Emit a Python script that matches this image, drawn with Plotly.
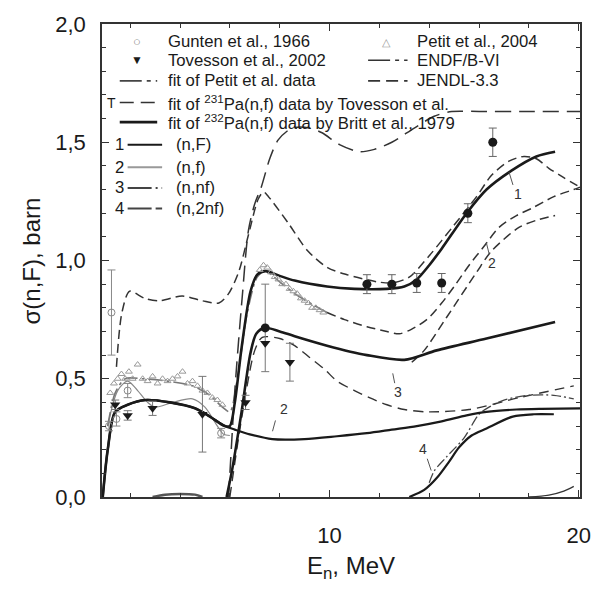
import plotly.graph_objects as go

# ---- evaluated curves (neutron energy in MeV, cross section in barn) ----
nF_E = [0.9, 1.1, 1.4, 1.9, 2.6, 3.6, 4.6, 5.2, 5.8, 6.0, 6.2, 6.47, 6.83, 7.1, 7.42, 8.0, 8.6,
        9.9, 11.0, 12.3, 13.0, 13.5, 14.0, 14.5, 15.5, 16.3, 17.3, 18.3, 19.05]
nF_S = [0.0, 0.2, 0.36, 0.39, 0.41, 0.40, 0.375, 0.34, 0.30, 0.30, 0.40, 0.63, 0.87, 0.94, 0.955, 0.935, 0.915,
        0.89, 0.88, 0.88, 0.89, 0.92, 0.98, 1.05, 1.20, 1.30, 1.38, 1.44, 1.46]

nf_E = [0.9, 1.1, 1.4, 1.9, 2.6, 3.6, 4.6, 5.2, 5.8, 6.2, 6.8, 7.7, 9.0, 10.3, 11.5, 12.5, 13.5,
        14.5, 15.5, 16.3, 17.5, 18.5, 20.05]
nf_S = [0.0, 0.2, 0.36, 0.39, 0.41, 0.40, 0.375, 0.34, 0.30, 0.285, 0.265, 0.245, 0.245, 0.257, 0.27, 0.285, 0.30,
        0.32, 0.345, 0.36, 0.37, 0.373, 0.375]

nnf_E = [5.87, 6.1, 6.47, 6.83, 7.06, 7.4, 8.0, 8.6, 9.9, 11.5, 13.0, 14.3, 16.3, 19.05]
nnf_S = [0.0, 0.12, 0.36, 0.61, 0.69, 0.715, 0.70, 0.68, 0.64, 0.60, 0.58, 0.62, 0.67, 0.74]

n2nf_E = [13.2, 13.8, 14.3, 14.8, 15.2, 15.7, 16.3, 17.35, 18.2, 19.0]
n2nf_S = [0.0, 0.03, 0.08, 0.15, 0.21, 0.26, 0.29, 0.34, 0.35, 0.35]

endf_E = [1.45, 1.67, 1.98, 2.58, 3.17, 4.09, 4.88, 5.56, 5.95, 6.35, 6.75, 7.14, 7.35, 7.55, 8.33,
          9.13, 9.92, 10.7, 11.9, 12.5, 13.2, 14.0, 15.0, 15.9, 16.5, 17.2, 17.8, 18.3, 18.8, 19.4, 20.05]
endf_S = [0.55, 0.78, 0.87, 0.84, 0.83, 0.85, 0.83, 0.82, 0.86, 0.95, 1.11, 1.26, 1.29, 1.27, 1.16,
          1.04, 0.97, 0.94, 0.91, 0.905, 0.93, 1.02, 1.15, 1.27, 1.36, 1.42, 1.44, 1.43, 1.39, 1.35, 1.31]

tov_fit_E = [5.95, 6.2, 6.5, 6.75, 7.0, 7.26, 7.6, 7.94, 8.5, 9.2, 9.7, 10.4, 11.2, 11.8, 12.5, 13.4,
             14.2, 14.9, 16.0, 18.0, 20.05]
tov_fit_S = [0.0, 0.45, 0.85, 1.13, 1.24, 1.31, 1.43, 1.51, 1.56, 1.56, 1.54, 1.49, 1.46, 1.47, 1.50, 1.56,
             1.61, 1.63, 1.63, 1.63, 1.63]

jendl_E = [9.9, 10.6, 11.5, 12.3, 12.8, 13.3, 13.9, 14.5, 15.0, 15.6, 16.2, 16.8, 17.5, 18.1, 19.0, 19.8, 20.05]
jendl_S = [0.78, 0.75, 0.72, 0.70, 0.69, 0.71, 0.75, 0.82, 0.89, 0.98, 1.06, 1.14, 1.19, 1.22, 1.27, 1.30, 1.31]

jendl2_E = [13.3, 13.8, 14.7, 15.9, 16.5, 17.6, 18.3, 19.05]
jendl2_S = [0.57, 0.62, 0.76, 0.95, 1.04, 1.14, 1.17, 1.19]

nnf3_E = [6.0, 6.5, 7.0, 7.3, 8.0, 8.6, 9.2, 9.8, 10.3, 11.0, 11.6, 12.3, 13.0, 13.9, 15.6, 17.6, 19.8]
nnf3_S = [0.0, 0.35, 0.62, 0.675, 0.67, 0.64, 0.59, 0.54, 0.49, 0.45, 0.42, 0.39, 0.37, 0.36, 0.37, 0.42, 0.47]

n2nf4_E = [14.0, 14.2, 14.7, 15.4, 16.0, 16.4, 17.0, 18.0, 19.0, 19.8]
n2nf4_S = [0.06, 0.11, 0.17, 0.25, 0.35, 0.38, 0.41, 0.43, 0.43, 0.415]

low_E = [1.1, 1.5, 1.9, 2.3, 2.7, 3.0, 3.7, 4.5, 5.0, 5.5, 5.75, 6.0]
low_S = [0.30, 0.45, 0.49, 0.45, 0.40, 0.38, 0.40, 0.415, 0.38, 0.30, 0.265, 0.26]

petit_fit_E = [1.1, 1.4, 1.8, 2.5, 3.5, 4.5, 5.2, 5.7, 6.0, 6.3, 6.7, 7.1, 7.42, 8.0, 8.6, 9.3, 9.9]
petit_fit_S = [0.30, 0.44, 0.50, 0.50, 0.49, 0.47, 0.43, 0.38, 0.36, 0.50, 0.78, 0.93, 0.955, 0.91, 0.86, 0.815, 0.78]

bump_lo_E = [2.9, 3.4, 4.0, 4.6, 4.9]
bump_lo_S = [0.0, 0.01, 0.013, 0.01, 0.0]
bump_hi_E = [18.0, 18.8, 19.4, 19.8]
bump_hi_S = [0.0, 0.008, 0.025, 0.045]

# ---- measured data ----
gun_E = [1.15, 1.25, 1.45, 1.9, 5.65]
gun_S = [0.30, 0.78, 0.33, 0.45, 0.27]
gun_err = [0.02, 0.18, 0.03, 0.03, 0.02]

tov_E = [1.4, 1.9, 2.9, 4.9, 6.63, 7.42, 8.41]
tov_S = [0.39, 0.345, 0.375, 0.35, 0.40, 0.65, 0.57]
tov_err_up = [0.02, 0.02, 0.03, 0.16, 0.03, 0.25, 0.08]
tov_err_dn = [0.02, 0.02, 0.03, 0.16, 0.03, 0.12, 0.08]

pet_E = [1.2, 1.35, 1.5, 1.65, 1.8, 1.95, 2.1, 2.3, 2.5, 2.7, 2.9, 3.1, 3.3, 3.5, 3.7, 3.9, 4.1, 4.3,
         4.5, 4.7, 4.9, 5.1, 5.3, 5.5, 5.7, 7.2, 7.35, 7.5, 7.65, 7.8, 7.95, 8.1, 8.25, 8.4, 8.55, 8.7,
         8.85, 9.0, 9.15, 9.3, 9.45, 9.6, 9.75]
pet_S = [0.44, 0.48, 0.50, 0.52, 0.50, 0.53, 0.50, 0.56, 0.50, 0.49, 0.51, 0.48, 0.50, 0.49, 0.50, 0.51,
         0.53, 0.48, 0.49, 0.47, 0.45, 0.44, 0.42, 0.41, 0.39, 0.96, 0.98, 0.97, 0.95, 0.93, 0.92, 0.90,
         0.90, 0.88, 0.87, 0.86, 0.84, 0.83, 0.82, 0.80, 0.80, 0.79, 0.78]

hc_E = [7.42, 11.5, 12.5, 13.5, 14.5, 15.55, 16.55]
hc_S = [0.715, 0.90, 0.90, 0.905, 0.905, 1.20, 1.50]
hc_err = [0.0, 0.04, 0.04, 0.04, 0.04, 0.04, 0.06]

y_ticks = [0.0, 0.5, 1.0, 1.5, 2.0]
y_tick_text = ["0,0", "0,5", "1,0", "1,5", "2,0"]
x_ticks = [10, 20]
x_tick_text = ["10", "20"]

FONT = "Liberation Sans, Arial, sans-serif"
INK = "#1a1a1a"

fig = go.Figure()


def curve(x, y, color=INK, width=1.6, dash="solid", smooth=0.8):
    fig.add_trace(go.Scatter(x=x, y=y, mode="lines", showlegend=False, hoverinfo="skip",
                             line=dict(color=color, width=width, dash=dash,
                                       shape="spline", smoothing=smooth)))


curve(bump_lo_E, bump_lo_S, color="#555", width=2.5)
curve(bump_hi_E, bump_hi_S, color="#333", width=1.3)
curve(low_E, low_S, color="#888", width=1.2)
curve(petit_fit_E, petit_fit_S, color="#777", width=1.6, dash="14px,4px,3px,4px")
curve(endf_E, endf_S, color="#333", width=1.5, dash="9px,5px")
curve(tov_fit_E, tov_fit_S, color="#333", width=1.5, dash="16px,8px")
curve(jendl_E, jendl_S, color="#333", width=1.5, dash="9px,5px")
curve(jendl2_E, jendl2_S, color="#333", width=1.5, dash="9px,5px")
curve(nnf3_E, nnf3_S, color="#333", width=1.4, dash="10px,6px")
curve(n2nf4_E, n2nf4_S, color="#444", width=1.3, dash="10px,3px,2px,3px")
curve(nf_E, nf_S, color=INK, width=2.2)
curve(nnf_E, nnf_S, color=INK, width=2.6)
curve(n2nf_E, n2nf_S, color=INK, width=2.2)
curve(nF_E, nF_S, color=INK, width=2.6)

# Petit et al., 2004
fig.add_trace(go.Scatter(x=pet_E, y=pet_S, mode="markers", showlegend=False, hoverinfo="skip",
                         marker=dict(symbol="triangle-up-open", size=6, color="#999",
                                     line=dict(width=1, color="#999"))))
# Gunten et al., 1966
fig.add_trace(go.Scatter(x=gun_E, y=gun_S, mode="markers", showlegend=False, hoverinfo="skip",
                         error_y=dict(type="data", array=gun_err, color="#888", thickness=1, width=4),
                         marker=dict(symbol="circle-open", size=7, color="#888",
                                     line=dict(width=1, color="#888"))))
# Tovesson et al., 2002
fig.add_trace(go.Scatter(x=tov_E, y=tov_S, mode="markers", showlegend=False, hoverinfo="skip",
                         error_y=dict(type="data", array=tov_err_up, arrayminus=tov_err_dn,
                                      color="#777", thickness=1, width=4),
                         marker=dict(symbol="triangle-down", size=9, color=INK)))
# high-energy data points
fig.add_trace(go.Scatter(x=hc_E, y=hc_S, mode="markers", showlegend=False, hoverinfo="skip",
                         error_y=dict(type="data", array=hc_err, color="#666", thickness=1, width=4),
                         marker=dict(symbol="circle", size=9, color=INK)))

# ---- plot frame geometry (pixels) ----
L, R, T, B = 102, 587, 15, 497


def px(x):
    return (x - L) / (R - L)


def py(y):
    return (B - y) / (B - T)


shapes = []
ann = []


def sample(x0, x1, y, dash="solid", width=1.6, color=INK):
    shapes.append(dict(type="line", xref="paper", yref="paper", x0=px(x0), x1=px(x1),
                       y0=py(y), y1=py(y), line=dict(color=color, width=width, dash=dash)))


def text(x, y, s, size=16.7, color=INK, anchor="left"):
    ann.append(dict(xref="paper", yref="paper", x=px(x), y=py(y), text=s, showarrow=False,
                    xanchor=anchor, yanchor="middle", font=dict(family=FONT, size=size, color=color)))


# legend, left column
text(138, 33, "○", size=13, color="#888", anchor="center")
text(167, 33, "Gunten et al., 1966")
text(138, 52, "▼", size=12, anchor="center")
text(167, 52, "Tovesson et al., 2002")
sample(120, 158, 73, dash="22px,5px,4px,5px", color="#444")
text(167, 73, "fit of Petit et al. data")
text(112, 95, "T", size=14, anchor="center")
sample(120, 158, 95, dash="14px,7px", color="#333")
text(167, 95, "fit of <sup>231</sup>Pa(n,f) data by Tovesson et al.")
sample(120, 158, 115, width=2.6)
text(167, 115, "fit of <sup>232</sup>Pa(n,f) data by Britt et al., 1979")
for k, (lab, dsh, col) in enumerate([("(n,F)", "solid", INK), ("(n,f)", "solid", "#999"),
                                     ("(n,nf)", "24px,4px,2px,4px", "#444"),
                                     ("(n,2nf)", "24px,4px,8px,4px", "#444")]):
    yy = [138, 161, 182, 203][k]
    text(120, yy, str(k + 1), anchor="center")
    sample(128, 163, yy, dash=dsh, width=2, color=col)
    text(175, yy, lab)

# legend, right column
text(391, 33, "△", size=11, color="#999", anchor="center")
text(420, 33, "Petit et al., 2004")
sample(372, 412, 52, dash="22px,5px,4px,5px", color="#333")
text(420, 52, "ENDF/B-VI")
sample(372, 412, 73, dash="12px,6px", color="#333")
text(420, 73, "JENDL-3.3")

# curve numbers with short leader strokes (leader given in pixels)
for lab, xe, ys, lead in [("1", 17.56, 1.28, (515, 166, 519, 179)),
                          ("2", 16.5, 0.99, (492, 238, 495, 250)),
                          ("2", 8.19, 0.373, (278, 419, 275, 430)),
                          ("3", 12.74, 0.444, (397, 371, 399, 381)),
                          ("4", 13.77, 0.203, (432, 458, 436, 470))]:
    ann.append(dict(x=xe, y=ys, xref="x", yref="y", text=lab, showarrow=False,
                    font=dict(family=FONT, size=14, color="#333")))
    shapes.append(dict(type="line", xref="paper", yref="paper",
                       x0=px(lead[0]), y0=py(lead[1]), x1=px(lead[2]), y1=py(lead[3]),
                       line=dict(color="#555", width=1)))

# axis titles
ann.append(dict(xref="paper", yref="paper", x=px(30), y=py(257), text="σ(n,F), barn",
                textangle=-90, showarrow=False, xanchor="center", yanchor="middle",
                font=dict(family=FONT, size=24, color=INK)))
ann.append(dict(xref="paper", yref="paper", x=px(355), y=py(569), text="E<sub>n</sub>, MeV",
                showarrow=False, xanchor="center", yanchor="middle",
                font=dict(family=FONT, size=24, color=INK)))

axis_common = dict(showline=True, linecolor="#333", linewidth=1.5, mirror="allticks",
                   ticks="inside", ticklen=7, tickcolor="#333", tickwidth=1,
                   showgrid=False, zeroline=False,
                   tickfont=dict(family=FONT, size=22, color=INK))

fig.update_layout(
    width=603, height=598,
    margin=dict(l=L, r=603 - R, t=T, b=598 - B),
    paper_bgcolor="white", plot_bgcolor="white",
    xaxis=dict(range=[0.87, 20.05], tickvals=x_ticks, ticktext=x_tick_text, ticklabelstandoff=18,
               minor=dict(tickvals=[2, 4, 6, 8, 12, 14, 16, 18], ticks="inside", ticklen=4,
                          tickcolor="#333"),
               **axis_common),
    yaxis=dict(range=[0, 2.0], tickvals=y_ticks, ticktext=y_tick_text, ticklabelstandoff=10,
               minor=dict(dtick=0.1, ticks="inside", ticklen=4, tickcolor="#333"),
               **axis_common),
    shapes=shapes,
    annotations=ann,
)

fig.write_html("out.html")
